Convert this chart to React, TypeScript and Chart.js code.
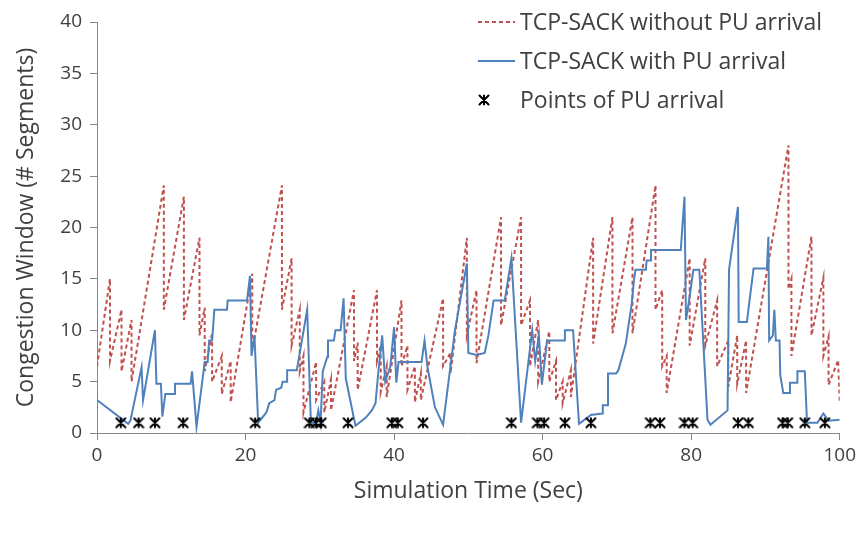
import React, { useEffect, useRef } from 'react';
import { Chart, registerables } from 'chart.js';

Chart.register(...registerables);

// ---- Data ----
const noPuX = [
  0, 1.75, 1.75, 3.3, 3.3, 4.65, 4.65, 9.0, 9.0, 11.7, 11.7, 13.8, 13.8, 14.5, 14.5, 15.5, 15.5, 16.8, 16.8, 18.0, 18.0,
  20.9, 20.9, 24.9, 24.9, 26.2, 26.2, 27.3, 27.3, 27.8, 27.8, 29.5, 29.5, 30.6, 30.6, 31.5, 31.5,
  34.6, 34.6, 35.1, 35.1, 37.7, 37.7, 38.2, 38.2, 39.0, 39.0, 41.0, 41.0, 41.8, 41.8, 42.8, 42.8, 43.6, 43.6,
  46.6, 46.6, 47.6, 47.6, 49.8, 49.8, 51.1, 51.1, 54.4, 54.4, 57.1, 57.1, 58.3, 58.3, 59.4, 59.4, 60.9, 60.9,
  61.8, 61.8, 62.7, 62.7, 63.8, 63.8, 66.8, 66.8, 69.4, 69.4, 72.1, 72.1, 75.2, 75.2, 76.1, 76.1, 76.7, 76.7,
  79.8, 79.8, 81.9, 81.9, 83.5, 83.5, 85.0, 85.0, 86.2, 86.2, 87.4, 87.4, 93.1, 93.1, 93.5, 93.5,
  96.2, 96.2, 97.8, 97.8, 98.5, 98.5, 99.8, 100,
];
const noPuY = [
  6.5, 15.0, 7.0, 12.0, 6.0, 11.0, 5.0, 24.1, 12.0, 23.0, 11.0, 19.0, 9.5, 12.2, 6.0, 9.7, 5.0, 7.5, 3.8, 7.0, 3.0,
  15.5, 8.0, 24.1, 12.0, 17.0, 8.5, 12.0, 6.0, 7.5, 2.0, 6.9, 3.2, 5.0, 2.0, 5.2, 2.2,
  13.9, 7.0, 8.8, 4.2, 13.9, 7.0, 8.5, 4.0, 6.5, 3.5, 12.9, 6.5, 8.5, 4.2, 6.5, 3.0, 5.8, 3.2,
  13.1, 6.5, 7.8, 5.8, 19.0, 9.5, 13.9, 6.8, 21.0, 10.5, 21.0, 10.5, 12.9, 6.5, 11.0, 5.0, 9.9, 5.0,
  7.0, 3.2, 5.0, 2.9, 6.1, 3.5, 19.0, 8.7, 21.0, 9.7, 21.0, 9.7, 24.1, 12.0, 13.9, 6.5, 7.5, 3.9,
  17.0, 8.5, 17.0, 8.5, 12.9, 6.5, 9.0, 4.5, 9.5, 4.8, 9.0, 3.9, 28.0, 14.0, 15.0, 7.5,
  19.1, 9.5, 15.1, 7.5, 9.4, 4.7, 7.1, 3.0,
];

const withPuX = [
  0, 4.2, 4.5, 6.0, 6.2, 7.8, 8.0, 8.6, 8.8, 9.2, 10.4, 10.5, 12.6, 12.8, 13.4, 14.5, 14.9, 15.1, 15.5, 15.8,
  17.5, 17.6, 20.2, 20.6, 20.8, 21.2, 21.7, 22.8, 23.2, 23.9, 24.1, 24.8, 25.0, 25.6, 25.6, 26.9, 28.3, 28.8,
  29.5, 29.8, 30.1, 30.4, 31.0, 31.1, 31.9, 32.1, 32.8, 33.2, 33.5, 34.8, 36.2, 37.0, 37.5, 37.9, 38.4, 38.8,
  39.5, 40.0, 40.3, 40.6, 43.7, 44.1, 44.5, 45.5, 46.6, 48.2, 49.8, 50.0, 51.1, 52.2, 52.7, 53.4, 54.9, 55.8,
  57.1, 58.6, 59.0, 59.5, 59.9, 60.6, 63.0, 63.0, 64.1, 64.9, 66.5, 68.0, 68.1, 68.8, 68.8, 69.9, 70.2, 71.2,
  72.0, 72.3, 72.5, 73.9, 74.0, 74.6, 74.6, 78.6, 79.1, 79.3, 79.7, 80.3, 81.1, 82.2, 82.6, 84.9, 85.1, 86.3,
  86.4, 87.5, 88.4, 90.2, 90.4, 90.5, 91.0, 91.2, 91.4, 91.9, 92.0, 92.4, 93.3, 93.3, 94.3, 94.3, 95.3, 95.6,
  97.0, 97.8, 98.5, 100,
];
const withPuY = [
  3.2, 0.9, 1.2, 6.4, 3.2, 10.0, 4.8, 4.8, 1.6, 3.8, 3.8, 4.8, 4.8, 6.0, 0.6, 6.9, 6.9, 9.0, 9.0, 12.0,
  12.0, 12.9, 12.9, 15.3, 7.5, 9.5, 1.0, 2.0, 2.9, 3.2, 4.2, 4.4, 5.0, 5.0, 6.1, 6.1, 12.0, 1.0,
  1.0, 2.2, 1.0, 6.0, 7.4, 9.0, 9.0, 10.0, 10.0, 13.1, 5.3, 0.7, 1.5, 2.2, 2.9, 6.1, 9.5, 5.0,
  6.5, 10.3, 4.9, 6.9, 6.9, 9.0, 6.4, 2.5, 0.8, 10.0, 16.5, 7.8, 7.6, 7.8, 9.5, 12.9, 12.9, 17.0,
  1.0, 10.0, 7.0, 9.5, 4.7, 9.0, 9.0, 10.0, 10.0, 0.9, 1.75, 1.9, 2.7, 2.7, 5.8, 5.8, 6.1, 8.7,
  12.6, 14.9, 15.9, 15.9, 16.8, 16.8, 17.8, 17.8, 23.0, 11.0, 12.8, 15.9, 15.9, 1.3, 0.8, 2.2, 15.9, 22.0,
  10.8, 10.8, 16.0, 16.0, 19.1, 9.0, 9.5, 12.0, 9.0, 9.0, 5.6, 3.9, 3.9, 4.9, 4.9, 6.0, 6.0, 1.0,
  1.0, 1.9, 1.2, 1.3,
];

const puArrivalX = [
  3.2, 5.6, 7.8, 11.6, 21.3, 28.6, 29.5, 30.2, 33.8, 39.7, 40.5, 43.9, 55.8, 59.3, 60.2, 63.0, 66.5,
  74.5, 75.8, 79.1, 80.2, 86.3, 87.7, 92.3, 93.0, 95.3, 98.0,
];
const puArrivalLevel = 1;

const seriesLabels = [
  'TCP-SACK without PU arrival',
  'TCP-SACK with PU arrival',
  'Points of PU arrival',
];
const xTitle = 'Simulation Time (Sec)';
const yTitle = 'Congestion Window (# Segments)';
const xRange = [0, 100];
const xStep = 20;
const yRange = [0, 40];
const yStep = 5;

// ---- Styles ----
const RED = '#C0504D';
const BLUE = '#4F81BD';
const TEXT = '#404040';
const AXIS = '#868686';
const FONT = '"Open Sans", "DejaVu Sans", sans-serif';

function makeStar(size: number, color: string): HTMLCanvasElement {
  const c = document.createElement('canvas');
  c.width = size;
  c.height = size;
  const g = c.getContext('2d')!;
  g.strokeStyle = color;
  g.lineWidth = 2;
  g.lineCap = 'round';
  const m = 1.5;
  const s = size - 1.5;
  g.beginPath();
  g.moveTo(m, m);
  g.lineTo(s, s);
  g.moveTo(s, m);
  g.lineTo(m, s);
  g.moveTo(size / 2, m);
  g.lineTo(size / 2, s);
  g.stroke();
  return c;
}

const insideLegend = {
  id: 'insideLegend',
  afterDraw(chart: any) {
    const ctx = chart.ctx as CanvasRenderingContext2D;
    const ds = chart.data.datasets;
    const rows = [22, 61, 100];
    const x0 = 478;
    const x1 = 515;
    const tx = 520;
    ctx.save();
    ctx.font = `23px ${FONT}`;
    ctx.textBaseline = 'middle';
    ctx.textAlign = 'left';
    ctx.strokeStyle = ds[0].borderColor;
    ctx.lineWidth = 2;
    ctx.setLineDash(ds[0].borderDash);
    ctx.beginPath();
    ctx.moveTo(x0, rows[0]);
    ctx.lineTo(x1, rows[0]);
    ctx.stroke();
    ctx.setLineDash([]);
    ctx.strokeStyle = ds[1].borderColor;
    ctx.beginPath();
    ctx.moveTo(x0, rows[1]);
    ctx.lineTo(x1, rows[1]);
    ctx.stroke();
    const img = ds[2].pointStyle as HTMLCanvasElement;
    ctx.drawImage(img, 484 - img.width / 2, rows[2] - img.height / 2);
    ctx.fillStyle = TEXT;
    for (let i = 0; i < 3; i++) ctx.fillText(ds[i].label, tx, rows[i] + 1);
    ctx.restore();
  },
};

export default function App() {
  const ref = useRef<HTMLCanvasElement | null>(null);

  useEffect(() => {
    document.body.style.margin = '0';
    const star = makeStar(12, '#000000');
    const chart = new Chart(ref.current!, {
      type: 'scatter',
      data: {
        datasets: [
          {
            label: seriesLabels[0],
            data: noPuX.map((x, i) => ({ x, y: noPuY[i] })),
            showLine: true,
            borderColor: RED,
            borderWidth: 2,
            borderDash: [4, 3],
            pointRadius: 0,
            fill: false,
            order: 3,
          },
          {
            label: seriesLabels[1],
            data: withPuX.map((x, i) => ({ x, y: withPuY[i] })),
            showLine: true,
            borderColor: BLUE,
            borderWidth: 2,
            pointRadius: 0,
            fill: false,
            order: 2,
          },
          {
            label: seriesLabels[2],
            data: puArrivalX.map((x) => ({ x, y: puArrivalLevel })),
            showLine: false,
            pointStyle: star as any,
            pointRadius: 6,
            order: 1,
          },
        ],
      },
      options: {
        responsive: false,
        animation: false,
        layout: { padding: { top: 22, right: 17, bottom: 0, left: 0 } },
        plugins: {
          legend: { display: false },
          tooltip: { enabled: false },
        },
        scales: {
          x: {
            type: 'linear',
            min: xRange[0],
            max: xRange[1],
            afterFit: (s: any) => { s.height = 100; },
            ticks: {
              stepSize: xStep,
              color: TEXT,
              font: { family: FONT, size: 19 },
              padding: 4,
            },
            grid: { display: true, drawOnChartArea: false, drawTicks: true, tickLength: 7, color: AXIS },
            border: { color: AXIS, width: 1 },
            title: {
              display: true,
              text: xTitle,
              color: TEXT,
              font: { family: FONT, size: 23 },
              padding: { top: 0, bottom: 28 },
            },
          },
          y: {
            type: 'linear',
            min: yRange[0],
            max: yRange[1],
            afterFit: (s: any) => { s.width = 97; },
            ticks: {
              stepSize: yStep,
              color: TEXT,
              font: { family: FONT, size: 19 },
              padding: 8,
            },
            grid: { display: true, drawOnChartArea: false, drawTicks: true, tickLength: 7, color: AXIS },
            border: { color: AXIS, width: 1 },
            title: {
              display: true,
              text: yTitle,
              color: TEXT,
              font: { family: FONT, size: 23 },
              padding: { top: 13, bottom: 0 },
            },
          },
        },
      },
      plugins: [insideLegend],
    });
    return () => chart.destroy();
  }, []);

  return (
    <div style={{ width: 860, height: 533 }}>
      <canvas ref={ref} width={860} height={533} />
    </div>
  );
}
